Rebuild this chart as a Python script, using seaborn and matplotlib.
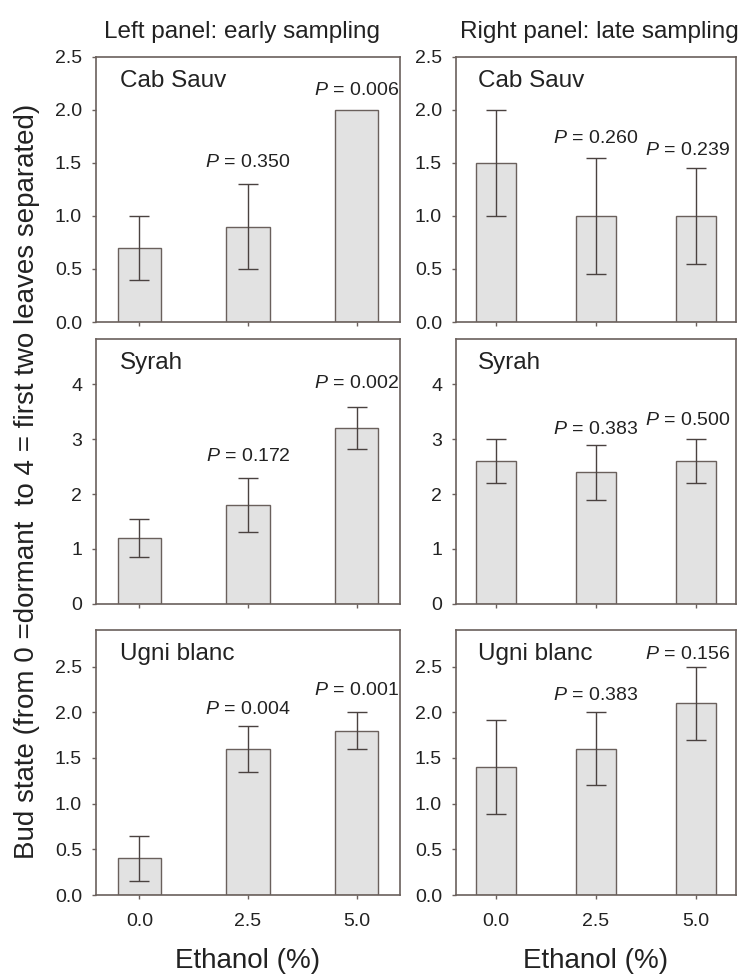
import numpy as np
import pandas as pd
import matplotlib
matplotlib.use('Agg')
import matplotlib.pyplot as plt
import seaborn as sns

# bar heights (mean bud state) and half error bar lengths
ethanol = ['0.0', '2.5', '5.0']

cab_early = [0.7, 0.9, 2.0]
cab_early_err = [0.3, 0.4, np.nan]
cab_late = [1.5, 1.0, 1.0]
cab_late_err = [0.5, 0.55, 0.45]

syrah_early = [1.2, 1.8, 3.2]
syrah_early_err = [0.35, 0.5, 0.38]
syrah_late = [2.6, 2.4, 2.6]
syrah_late_err = [0.4, 0.5, 0.4]

ugni_early = [0.4, 1.6, 1.8]
ugni_early_err = [0.25, 0.25, 0.2]
ugni_late = [1.4, 1.6, 2.1]
ugni_late_err = [0.51, 0.4, 0.4]

# P-values and the height where each label sits
cab_early_p = [None, '0.350', '0.006']
cab_early_py = [None, 1.50, 2.18]
cab_late_p = [None, '0.260', '0.239']
cab_late_py = [None, 1.73, 1.62]
syrah_early_p = [None, '0.172', '0.002']
syrah_early_py = [None, 2.68, 4.01]
syrah_late_p = [None, '0.383', '0.500']
syrah_late_py = [None, 3.18, 3.33]
ugni_early_p = [None, '0.004', '0.001']
ugni_early_py = [None, 2.03, 2.24]
ugni_late_p = [None, '0.383', '0.156']
ugni_late_py = [None, 2.18, 2.63]

sns.set_style('ticks')
plt.rcParams['font.family'] = ['Liberation Sans', 'DejaVu Sans']
plt.rcParams['mathtext.fontset'] = 'custom'
plt.rcParams['mathtext.it'] = 'Liberation Sans:italic'
plt.rcParams['mathtext.rm'] = 'Liberation Sans'

edge = '#6a605c'
fill = '#e2e2e2'
txt = '#222222'

panels = [
    # name, values, errors, p labels, p heights, ylim, yticks, row, col
    ('Cab Sauv', cab_early, cab_early_err, cab_early_p, cab_early_py, 2.5, np.arange(0, 2.51, 0.5), 0, 0),
    ('Cab Sauv', cab_late, cab_late_err, cab_late_p, cab_late_py, 2.5, np.arange(0, 2.51, 0.5), 0, 1),
    ('Syrah', syrah_early, syrah_early_err, syrah_early_p, syrah_early_py, 4.82, [0, 1, 2, 3, 4], 1, 0),
    ('Syrah', syrah_late, syrah_late_err, syrah_late_p, syrah_late_py, 4.82, [0, 1, 2, 3, 4], 1, 1),
    ('Ugni blanc', ugni_early, ugni_early_err, ugni_early_p, ugni_early_py, 2.9, np.arange(0, 2.51, 0.5), 2, 0),
    ('Ugni blanc', ugni_late, ugni_late_err, ugni_late_p, ugni_late_py, 2.9, np.arange(0, 2.51, 0.5), 2, 1),
]

fig = plt.figure(figsize=(7.43, 9.74), dpi=100)
col_x = [(0.1292, 0.4092), (0.6137, 0.3769)]
row_y = [0.6694, 0.3799, 0.0811]
h = 0.2721

for name, vals, errs, plabs, pys, ytop, yt, r, c in panels:
    ax = fig.add_axes([col_x[c][0], row_y[r], col_x[c][1], h])
    df = pd.DataFrame({'Ethanol': ethanol, 'Bud': vals})
    sns.barplot(data=df, x='Ethanol', y='Bud', color=fill, edgecolor=edge,
                linewidth=1.0, width=0.4, saturation=1, errorbar=None, ax=ax)
    ax.errorbar(range(len(ethanol)), vals, yerr=errs, fmt='none', ecolor='#4a4240',
                elinewidth=1.0, capsize=7, capthick=1.0)
    for i, (lab, py) in enumerate(zip(plabs, pys)):
        if lab is None:
            continue
        dx = -6 if (c == 1 and i == 2) else 0
        ax.annotate('$P$ = ' + lab, (i, py), xytext=(dx, 0), textcoords='offset points',
                    ha='center', va='center', fontsize=14, color=txt)
    ax.text(0.079, 0.91, name, transform=ax.transAxes, fontsize=17.5, color=txt,
            ha='left', va='center')
    ax.set_xlim(-0.4, 2.4)
    ax.set_ylim(0, ytop)
    ax.set_yticks(yt)
    if ytop < 4:
        ax.set_yticklabels(['%.1f' % v for v in yt])
    ax.set_xlabel('')
    ax.set_ylabel('')
    for s in ax.spines.values():
        s.set_color(edge)
        s.set_linewidth(1.2)
    ax.tick_params(colors=edge, labelcolor=txt, labelsize=14, length=3, width=1)
    ax.tick_params(axis='y', pad=7)
    ax.tick_params(axis='x', pad=10)
    if r < 2:
        ax.set_xticklabels([])
    else:
        ax.set_xlabel('Ethanol (%)', fontsize=20, color=txt, labelpad=13)

fig.text(0.326, 0.967, 'Left panel: early sampling', ha='center', va='center',
         fontsize=17.5, color=txt)
fig.text(0.807, 0.967, 'Right panel: late sampling', ha='center', va='center',
         fontsize=17.5, color=txt)
fig.text(0.037, 0.506, 'Bud state (from 0 =dormant  to 4 = first two leaves separated)',
         rotation=90, ha='center', va='center', fontsize=20, color=txt)

fig.savefig('out.png', dpi=100, facecolor='white')
